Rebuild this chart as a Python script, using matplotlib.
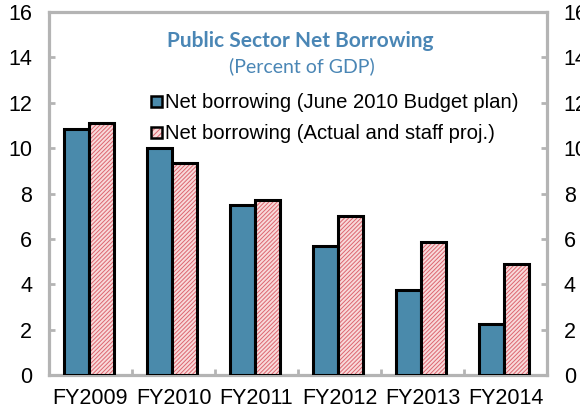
import numpy as np
import matplotlib.pyplot as plt

plt.rcParams['font.family'] = ['Liberation Sans', 'DejaVu Sans']
plt.rcParams['hatch.linewidth'] = 0.7

years  = ['FY2009', 'FY2010', 'FY2011', 'FY2012', 'FY2013', 'FY2014']
budget = [10.85, 10.0, 7.5, 5.7, 3.75, 2.25]   # June 2010 Budget plan
actual = [11.1, 9.35, 7.7, 7.0, 5.85, 4.9]     # actual and staff projections

BLUE  = '#4A8AAB'
PINK  = '#F8DADA'
HATCH = '#DC6670'
GRAY  = '#B4B4B4'
TITLE = '#4A86B5'
FS    = 15.5

x = np.arange(len(years))
w = 0.3

fig = plt.figure(figsize=(5.8, 4.13), dpi=100)
ax = fig.add_axes([49/580, 1-375/413, 498/580, 363/413])

ax.bar(x - w/2 - 0.02, budget, w, color=BLUE, edgecolor='black', linewidth=2.2, zorder=3)
# hatched fill first, then a plain black outline on top
plt.rcParams['hatch.color'] = HATCH
ax.bar(x + w/2 - 0.02, actual, w, color=PINK, edgecolor=HATCH, hatch='////////', linewidth=0, zorder=3)
ax.bar(x + w/2 - 0.02, actual, w, fill=False, edgecolor='black', linewidth=2.2, zorder=4)

ax.set_xlim(-0.5, len(years) - 0.5)
ax.set_ylim(0, 16)
ax.set_yticks(np.arange(0, 17, 2))
ax.set_xticks(x)
ax.set_xticklabels(years, fontsize=FS)
ax.set_xticks(np.arange(0.5, len(years) - 0.5, 1), minor=True)

for s in ax.spines.values():
    s.set_color(GRAY)
    s.set_linewidth(2.3)

ax.tick_params(axis='y', direction='in', length=4, width=2, color=GRAY, labelsize=FS,
               pad=12, right=True, labelright=True)
ax.tick_params(axis='x', which='major', length=0, labelsize=FS, pad=9)
ax.tick_params(axis='x', which='minor', direction='in', length=4, width=2, color=GRAY)

ax.text(0.505, 0.92, 'Public Sector Net Borrowing', transform=ax.transAxes, ha='center',
        va='center', fontsize=15, fontweight='bold', color=TITLE, family='Lato')
ax.text(0.507, 0.85, '(Percent of GDP)', transform=ax.transAxes, ha='center',
        va='center', fontsize=14, color=TITLE, family='Lato')

# legend entries drawn by hand: small swatch then label
for i, (lab, fc, ht) in enumerate([
        ('Net borrowing (June 2010 Budget plan)', BLUE, None),
        ('Net borrowing (Actual and staff proj.)', PINK, '//////')]):
    yy = 0.752 - i * 0.086
    ax.add_patch(plt.Rectangle((0.205, yy - 0.014), 0.021, 0.03, transform=ax.transAxes,
                               facecolor=fc, edgecolor=HATCH if ht else 'black',
                               hatch=ht, linewidth=0, zorder=5))
    ax.add_patch(plt.Rectangle((0.205, yy - 0.014), 0.021, 0.03, transform=ax.transAxes,
                               fill=False, edgecolor='black', linewidth=1.8, zorder=6))
    ax.text(0.233, yy, lab, transform=ax.transAxes, ha='left', va='center', fontsize=14.6)

fig.savefig('out.png', dpi=100)
